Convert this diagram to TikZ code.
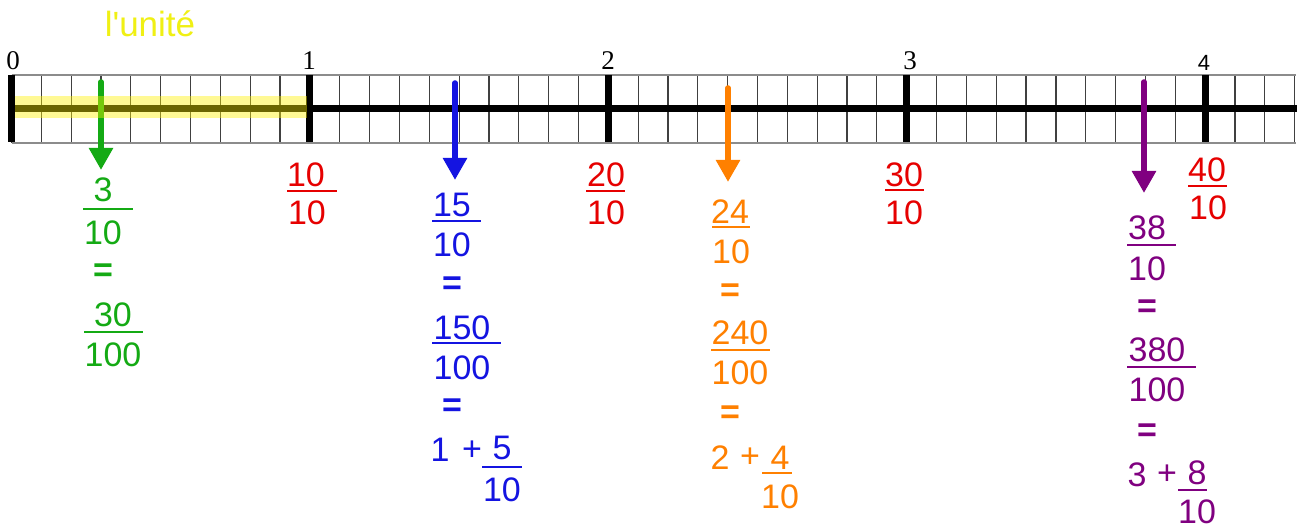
\documentclass[tikz,border=0pt]{standalone}
\usepackage{fontspec}
\setmainfont{Liberation Sans}
\newfontfamily\serifnum{Liberation Serif}
\usetikzlibrary{arrows.meta}
\definecolor{cgreen}{RGB}{20,170,20}
\definecolor{cblue}{RGB}{20,20,225}
\definecolor{corange}{RGB}{255,128,0}
\definecolor{cpurple}{RGB}{128,0,128}
\definecolor{cred}{RGB}{230,0,0}
\definecolor{cyellow}{RGB}{240,240,20}
\tikzset{
  num/.style={inner sep=0pt, font=\fontsize{34}{40}\selectfont},
  eqsign/.style={font=\bfseries\fontsize{34}{40}\selectfont},
  tlabel/.style={inner sep=0pt, font=\serifnum\fontsize{27}{32}\selectfont},
  gridv/.style={line width=1.2pt, black!75},
  gridh/.style={line width=1.2pt, black!45},
  bar/.style={line width=2.2pt},
  downarrow/.style={line width=5.5pt, line cap=round, -{Triangle[width=23pt,length=22pt]}},
}
\begin{document}
\begin{tikzpicture}[x=1pt,y=-1pt]
\useasboundingbox (0,0) rectangle (1302,529);
\fill[white] (0,0) rectangle (1302,529);
% grid
\foreach \k in {0,...,43} \draw[gridv] ({11.5+\k*29.84},75) -- ({11.5+\k*29.84},143);
\draw[gridh] (11.5,75) -- (1296,75);
\draw[gridh] (11.5,143) -- (1296,143);
% main line
\draw[line width=7pt] (11.5,108.5) -- (1297,108.5);
\foreach \i in {0,...,4} \draw[line width=7pt] ({11.5+\i*298.4},75) -- ({11.5+\i*298.4},142);
% tick labels
\node[tlabel] (l0) at (13,61) {0};
\node[tlabel] (l1) at (309,61) {1};
\node[tlabel] (l2) at (608,61) {2};
\node[tlabel] (l3) at (910,61) {3};
\node[inner sep=0pt, font=\fontsize{22}{26}\selectfont] (l4) at (1204,62.5) {4};
\node[inner sep=0pt, anchor=base, text=cyellow, font=\fontsize{35}{40}\selectfont] (unite) at (150,37) {l\textquotesingle unité};
% arrows
\coordinate (ga) at (101,82);  \coordinate (gb) at (101,170);
\coordinate (ba) at (455,83);  \coordinate (bb) at (455,180);
\coordinate (oa) at (728,88);  \coordinate (ob) at (728,182);
\coordinate (pa) at (1144,82); \coordinate (pb) at (1144,193);
\draw[downarrow, cgreen] (ga) -- (gb);
\draw[downarrow, cblue] (ba) -- (bb);
\draw[downarrow, corange] (oa) -- (ob);
\draw[downarrow, cpurple] (pa) -- (pb);
% yellow band
\fill[yellow, opacity=0.42] (15,96) rectangle (307,118);
% red fractions
\begin{scope}[every node/.style={num, text=cred}]
\node (r1n) at (306,175) {10}; \node (r1d) at (307,213) {10};
\node (r2n) at (606,175) {20}; \node (r2d) at (606,213) {10};
\node (r3n) at (904,175) {30}; \node (r3d) at (904,213) {10};
\node (r4n) at (1207,170) {40}; \node (r4d) at (1208,208) {10};
\end{scope}
\draw[bar, cred] (287,191) -- (337,191);
\draw[bar, cred] (586,191) -- (625,191);
\draw[bar, cred] (885,190) -- (924,190);
\draw[bar, cred] (1188,186) -- (1227,186);
% green
\begin{scope}[every node/.style={num, text=cgreen}]
\node (g1n) at (103,190) {3}; \node (g1d) at (103,233) {10};
\node[eqsign] (geq) at (103,273) {=};
\node (g2n) at (113,315) {30}; \node (g2d) at (113,355) {100};
\end{scope}
\draw[bar, cgreen] (83,209) -- (133,209);
\draw[bar, cgreen] (84,332) -- (143,332);
% blue
\begin{scope}[every node/.style={num, text=cblue}]
\node (b1n) at (452,205) {15}; \node (b1d) at (452,245) {10};
\node[eqsign] (beq1) at (452,286) {=};
\node (b2n) at (462,328) {150}; \node (b2d) at (462,368) {100};
\node[eqsign] (beq2) at (452,408) {=};
\node (bone) at (440,450) {1}; \node (bplus) at (472,451) {+};
\node (b3n) at (502,448) {5}; \node (b3d) at (502,490) {10};
\end{scope}
\draw[bar, cblue] (432,221) -- (481,221);
\draw[bar, cblue] (432,343) -- (501,343);
\draw[bar, cblue] (482,467) -- (522,467);
% orange
\begin{scope}[every node/.style={num, text=corange}]
\node (o1n) at (730,212) {24}; \node (o1d) at (731,252) {10};
\node[eqsign] (oeq1) at (730,293) {=};
\node (o2n) at (740,333) {240}; \node (o2d) at (740,373) {100};
\node[eqsign] (oeq2) at (730,415) {=};
\node (otwo) at (720,458) {2}; \node (oplus) at (750,458) {+};
\node (o3n) at (780,458) {4}; \node (o3d) at (780,497) {10};
\end{scope}
\draw[bar, corange] (712,227) -- (750,227);
\draw[bar, corange] (711,350) -- (770,350);
\draw[bar, corange] (762,473) -- (792,473);
% purple
\begin{scope}[every node/.style={num, text=cpurple}]
\node (p1n) at (1147,228) {38}; \node (p1d) at (1147,269) {10};
\node[eqsign] (peq1) at (1147,309) {=};
\node (p2n) at (1157,350) {380}; \node (p2d) at (1157,390) {100};
\node[eqsign] (peq2) at (1147,433) {=};
\node (pthree) at (1137,475) {3}; \node (pplus) at (1167,475) {+};
\node (p3n) at (1197,473) {8}; \node (p3d) at (1197,512) {10};
\end{scope}
\draw[bar, cpurple] (1127,245) -- (1176,245);
\draw[bar, cpurple] (1127,367) -- (1196,367);
\draw[bar, cpurple] (1178,490) -- (1207,490);
\end{tikzpicture}
\end{document}
